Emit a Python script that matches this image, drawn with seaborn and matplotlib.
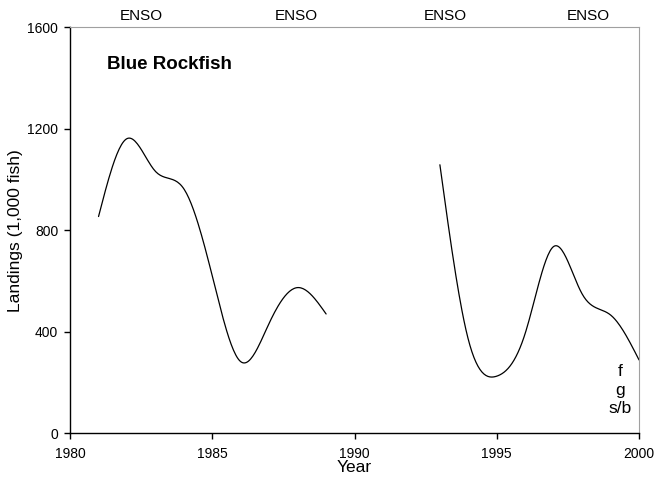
import numpy as np
import pandas as pd
import matplotlib
matplotlib.use("Agg")
import matplotlib.pyplot as plt
import seaborn as sns

# landings (1,000 fish); gap 1990-1992
years_a = [1981, 1982, 1983, 1984, 1985, 1986, 1987, 1988, 1989]
landings_a = [855, 1162, 1033, 964, 620, 283, 435, 575, 471]
years_b = [1993, 1994, 1995, 1996, 1997, 1998, 1999, 2000]
landings_b = [1059, 370, 226, 395, 737, 550, 467, 290]

enso_years = [1982.5, 1987.95, 1993.2, 1998.2]
gear_labels = ["f", "g", "s/b"]
gear_values = [246, 168, 97]


def natural_spline(x, y, n=200):
    x = np.asarray(x, float)
    y = np.asarray(y, float)
    k = len(x)
    h = np.diff(x)
    A = np.zeros((k, k))
    r = np.zeros(k)
    A[0, 0] = A[-1, -1] = 1
    for i in range(1, k - 1):
        A[i, i - 1] = h[i - 1]
        A[i, i] = 2 * (h[i - 1] + h[i])
        A[i, i + 1] = h[i]
        r[i] = 6 * ((y[i + 1] - y[i]) / h[i] - (y[i] - y[i - 1]) / h[i - 1])
    m = np.linalg.solve(A, r)
    xs = np.linspace(x[0], x[-1], n)
    j = np.clip(np.searchsorted(x, xs) - 1, 0, k - 2)
    t0 = xs - x[j]
    t1 = x[j + 1] - xs
    hj = h[j]
    ys = (m[j] * t1**3 + m[j + 1] * t0**3) / (6 * hj) \
        + (y[j] / hj - m[j] * hj / 6) * t1 \
        + (y[j + 1] / hj - m[j + 1] * hj / 6) * t0
    return xs, ys


sns.set_style("ticks")
plt.rcParams['font.family'] = ['Liberation Sans', 'DejaVu Sans']
plt.rcParams['text.color'] = 'black'
plt.rcParams['axes.labelcolor'] = 'black'

fig = plt.figure(figsize=(6.55, 4.78), dpi=100)
ax = fig.add_axes([0.107, 0.0931, 0.8686, 0.8494])

for xs_, ys_ in [(years_a, landings_a), (years_b, landings_b)]:
    sx, sy = natural_spline(xs_, ys_)
    df = pd.DataFrame({"Year": sx, "Landings": sy})
    sns.lineplot(data=df, x="Year", y="Landings", color="black", lw=0.9,
                 estimator=None, sort=False, ax=ax)

ax.set_xlim(1980, 2000)
ax.set_ylim(0, 1600)
ax.set_xticks(range(1980, 2001, 5))
ax.set_yticks(range(0, 1601, 400))
ax.tick_params(direction="out", length=4, width=1, labelsize=10,
               colors="black")
ax.tick_params(axis="x", pad=6)
ax.tick_params(axis="y", pad=4.5)
for s in ["top", "right"]:
    ax.spines[s].set_color("#a0a0a0")
for s in ["left", "bottom"]:
    ax.spines[s].set_color("black")
    ax.spines[s].set_linewidth(1)

ax.set_xlabel("Year", fontsize=12.5, labelpad=-1)
ax.set_ylabel("Landings (1,000 fish)", fontsize=12.5, labelpad=3)

ax.text(0.0648, 0.91, "Blue Rockfish", transform=ax.transAxes,
        fontsize=13.5, fontweight="bold", va="center", ha="left")

for ey in enso_years:
    ax.text(ey, 1.01, "ENSO", transform=ax.get_xaxis_transform(),
            ha="center", va="bottom", fontsize=11)

for lab, v in zip(gear_labels, gear_values):
    ax.text(1999.35, v, lab, ha="center", va="center", fontsize=12.5)

fig.savefig("out.png", dpi=100)
